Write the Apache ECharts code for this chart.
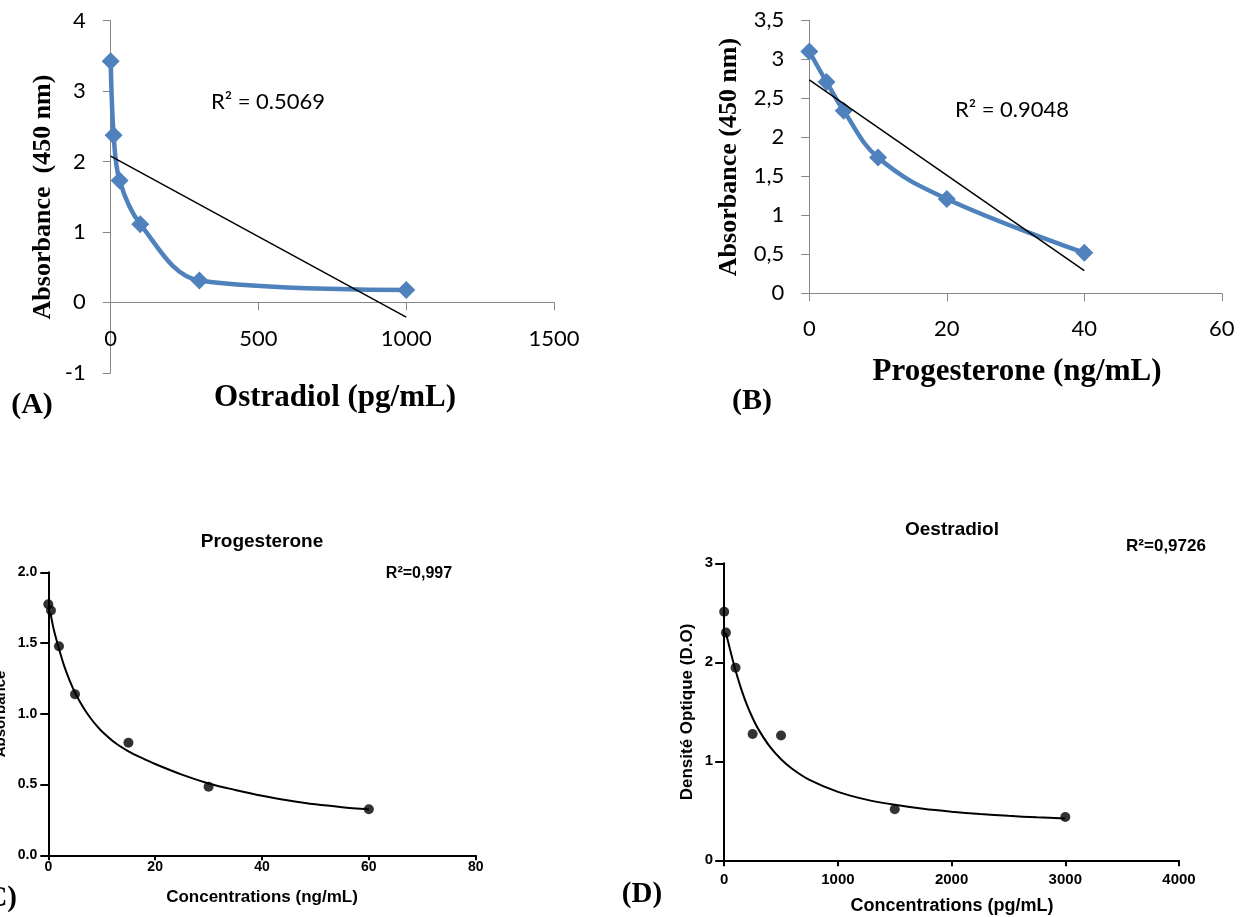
<!DOCTYPE html>
<html><head><meta charset="utf-8">
<script src="https://cdn.jsdelivr.net/npm/echarts@6/dist/echarts.min.js"></script>
<style>html,body{margin:0;padding:0;background:#fff}#c{width:1252px;height:917px}</style>
</head><body><div id="c"></div>
<script>
// ---- Panel A: Ostradiol (Excel) ----
const aX = [0, 10, 30, 100, 300, 1000];
const aY = [3.42, 2.37, 1.73, 1.11, 0.31, 0.175];
const aTrendX = [0, 1000];
const aTrendY = [2.075, -0.21];
const aXTicks = ['0', '500', '1000', '1500'];
const aYTicks = ['-1', '0', '1', '2', '3', '4'];
// ---- Panel B: Progesterone (Excel) ----
const bX = [0, 2.5, 5, 10, 20, 40];
const bY = [3.10, 2.71, 2.34, 1.74, 1.21, 0.52];
const bTrendX = [0, 40];
const bTrendY = [2.735, 0.29];
const bXTicks = ['0', '20', '40', '60'];
const bYTicks = ['0', '0,5', '1', '1,5', '2', '2,5', '3', '3,5'];
// ---- Panel C: Progesterone (Prism) ----
const cX = [0, 0.5, 2, 5, 15, 30, 60];
const cY = [1.774, 1.73, 1.477, 1.138, 0.796, 0.485, 0.325];
const cFitX = [0.4, 1, 2, 3, 4, 5, 6, 7, 8, 9, 10, 12.5, 15, 17.5, 20, 25, 30, 35, 40, 45, 50, 55, 60];
const cFitY = [1.715, 1.6, 1.46, 1.335, 1.235, 1.15, 1.08, 1.018, 0.965, 0.918, 0.877, 0.795, 0.735, 0.688, 0.645, 0.57, 0.508, 0.462, 0.421, 0.388, 0.36, 0.34, 0.325];
const cXTicks = ['0', '20', '40', '60', '80'];
const cYTicks = ['0.0', '0.5', '1.0', '1.5', '2.0'];
// ---- Panel D: Oestradiol (Prism) ----
const dX = [0, 15, 100, 250, 500, 1500, 3000];
const dY = [2.51, 2.30, 1.945, 1.276, 1.26, 0.515, 0.437];
const dFitX = [15, 30, 50, 75, 100, 150, 200, 250, 300, 400, 500, 600, 750, 1000, 1250, 1500, 1750, 2000, 2250, 2500, 2750, 3000];
const dFitY = [2.295, 2.229, 2.136, 2.023, 1.917, 1.729, 1.569, 1.437, 1.325, 1.150, 1.020, 0.922, 0.812, 0.691, 0.613, 0.560, 0.520, 0.491, 0.468, 0.449, 0.434, 0.422];
const dXTicks = ['0', '1000', '2000', '3000', '4000'];
const dYTicks = ['0', '1', '2', '3'];

const zip = (xs, ys) => xs.map((x, i) => [x, ys[i]]);
const tickFmt = (arr, min, step) => v => { const i = Math.round((v - min) / step); return arr[i] !== undefined ? arr[i] : ''; };

const blue = '#4F81BD';
const gray = '#868686';
const excelLbl = { fontFamily: 'Lato', fontSize: 22, color: '#000' };
const prismLbl = { fontFamily: 'Liberation Sans', fontWeight: 'bold', color: '#000' };

function excelX(gi, min, max, step, ticks, margin) {
  return { type: 'value', gridIndex: gi, min, max, interval: step,
    axisLine: { show: true, onZero: true, lineStyle: { color: gray, width: 1 } },
    axisTick: { show: true, length: 8, lineStyle: { color: gray } },
    axisLabel: Object.assign({ margin, formatter: tickFmt(ticks, min, step) }, excelLbl),
    splitLine: { show: false } };
}
function excelY(gi, min, max, step, ticks) {
  return { type: 'value', gridIndex: gi, min, max, interval: step,
    axisLine: { show: true, onZero: false, lineStyle: { color: gray, width: 1 } },
    axisTick: { show: true, length: 8, lineStyle: { color: gray } },
    axisLabel: Object.assign({ margin: 25, formatter: tickFmt(ticks, min, step) }, excelLbl),
    splitLine: { show: false } };
}
function prismAxis(gi, min, max, step, ticks, fs, margin, tl) {
  return { type: 'value', gridIndex: gi, min, max, interval: step,
    axisLine: { show: true, onZero: false, lineStyle: { color: '#000', width: 2 } },
    axisTick: { show: true, length: tl, lineStyle: { color: '#000', width: 2 } },
    axisLabel: Object.assign({ margin, fontSize: fs, formatter: tickFmt(ticks, min, step) }, prismLbl),
    splitLine: { show: false } };
}

function txt(x, y, text, opts) {
  return { type: 'text', x, y, rotation: opts.rot || 0, z: 100,
    style: { text, fill: '#000', fontFamily: opts.family, fontWeight: opts.weight || 'normal',
      fontSize: opts.size, textAlign: opts.align || 'center', textVerticalAlign: 'middle' } };
}
const serifB = s => ({ family: 'Liberation Serif', weight: 'bold', size: s });
const arialB = s => ({ family: 'Liberation Sans', weight: 'bold', size: s });

const chart = echarts.init(document.getElementById('c'), null, { renderer: 'canvas' });
chart.setOption({
  backgroundColor: '#fff',
  animation: false,
  grid: [
    { left: 110.7, top: 20.5, width: 443.3, height: 352.3, outerBoundsMode: 'none', containLabel: false },
    { left: 809.3, top: 20.3, width: 412.5, height: 273, outerBoundsMode: 'none', containLabel: false },
    { left: 48.3, top: 572.3, width: 427.4, height: 283, outerBoundsMode: 'none', containLabel: false },
    { left: 724.2, top: 563.3, width: 454.8, height: 297, outerBoundsMode: 'none', containLabel: false }
  ],
  xAxis: [
    excelX(0, 0, 1500, 500, aXTicks, -45),
    excelX(1, 0, 60, 20, bXTicks, 25),
    prismAxis(2, 0, 80, 20, cXTicks, 14, 5, 5),
    prismAxis(3, 0, 4000, 1000, dXTicks, 15, 12, 6)
  ],
  yAxis: [
    excelY(0, -1, 4, 1, aYTicks),
    excelY(1, 0, 3.5, 0.5, bYTicks),
    prismAxis(2, 0, 2, 0.5, cYTicks, 14, 11, 8),
    prismAxis(3, 0, 3, 1, dYTicks, 15, 11, 9)
  ],
  series: [
    { type: 'line', xAxisIndex: 0, yAxisIndex: 0, data: zip(aX, aY), smooth: 0.35, clip: false,
      symbol: 'diamond', symbolSize: 18, itemStyle: { color: blue }, lineStyle: { color: blue, width: 4.5 }, z: 2 },
    { type: 'line', xAxisIndex: 0, yAxisIndex: 0, data: zip(aTrendX, aTrendY), showSymbol: false, clip: false,
      lineStyle: { color: '#000', width: 1.5 }, z: 5 },
    { type: 'line', xAxisIndex: 1, yAxisIndex: 1, data: zip(bX, bY), smooth: 0.4, clip: false,
      symbol: 'diamond', symbolSize: 18, itemStyle: { color: blue }, lineStyle: { color: blue, width: 4.5 }, z: 2 },
    { type: 'line', xAxisIndex: 1, yAxisIndex: 1, data: zip(bTrendX, bTrendY), showSymbol: false, clip: false,
      lineStyle: { color: '#000', width: 1.5 }, z: 5 },
    { type: 'line', xAxisIndex: 2, yAxisIndex: 2, data: zip(cFitX, cFitY), smooth: 0.3, showSymbol: false, clip: false,
      lineStyle: { color: '#000', width: 2 } },
    { type: 'scatter', xAxisIndex: 2, yAxisIndex: 2, data: zip(cX, cY), symbol: 'circle', symbolSize: 10, clip: false,
      itemStyle: { color: '#000' } },
    { type: 'line', xAxisIndex: 3, yAxisIndex: 3, data: zip(dFitX, dFitY), smooth: 0.3, showSymbol: false, clip: false,
      lineStyle: { color: '#000', width: 2 } },
    { type: 'scatter', xAxisIndex: 3, yAxisIndex: 3, data: zip(dX, dY), symbol: 'circle', symbolSize: 10, clip: false,
      itemStyle: { color: '#000' } }
  ],
  graphic: [
    txt(43, 197, 'Absorbance  (450 nm)', Object.assign({ rot: Math.PI / 2 }, serifB(26))),
    txt(335, 398, 'Ostradiol (pg/mL)', serifB(31)),
    txt(32, 405, '(A)', serifB(30)),
    txt(268, 102, 'R² = 0.5069', { family: 'Lato', size: 22 }),
    txt(729, 157, 'Absorbance (450 nm)', Object.assign({ rot: Math.PI / 2 }, serifB(26))),
    txt(1017, 372, 'Progesterone (ng/mL)', serifB(31)),
    txt(752, 401, '(B)', serifB(30)),
    txt(1012, 110, 'R² = 0.9048', { family: 'Lato', size: 22 }),
    txt(262, 542, 'Progesterone', arialB(19)),
    txt(419, 574, 'R²=0,997', arialB(16)),
    txt(262, 897, 'Concentrations (ng/mL)', arialB(17)),
    txt(1, 714, 'Absorbance', Object.assign({ rot: Math.PI / 2 }, arialB(15))),
    txt(17, 899, '(C)', Object.assign({ align: 'right' }, serifB(29))),
    txt(952, 530, 'Oestradiol', arialB(19)),
    txt(1166, 546, 'R²=0,9726', arialB(17)),
    txt(952, 906, 'Concentrations (pg/mL)', arialB(18)),
    txt(687, 712, 'Densité Optique (D.O)', Object.assign({ rot: Math.PI / 2 }, arialB(17))),
    txt(642, 895, '(D)', serifB(29))
  ]
});
</script></body></html>
